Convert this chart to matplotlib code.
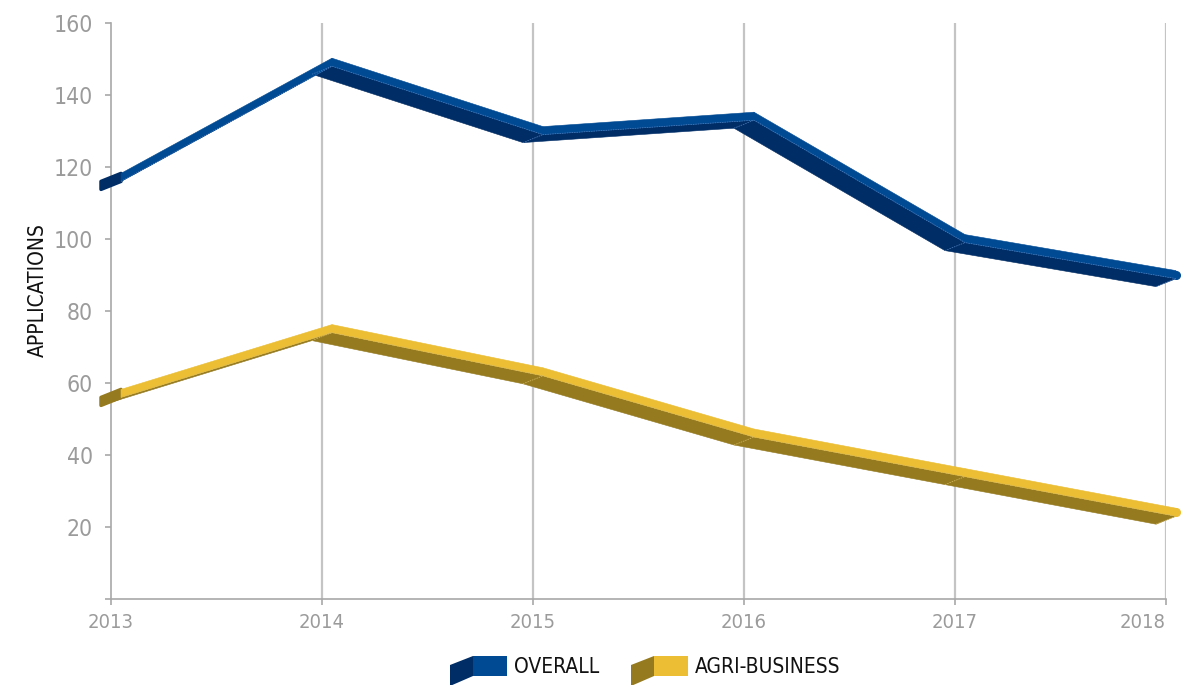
import numpy as np
import matplotlib.pyplot as plt
from matplotlib.patches import Polygon
from matplotlib import font_manager

years = [2013, 2014, 2015, 2016, 2017, 2018]
overall = [116, 148, 129, 133, 99, 89]
agri_business = [56, 74, 62, 45, 34, 23]
y_ticks = [0, 20, 40, 60, 80, 100, 120, 140, 160]
y_labels = ["", "20", "40", "60", "80", "100", "120", "140", "160"]

W, H, DPI = 1182, 685, 100
GREY = "#9b9b9b"

# pick the narrowest sans face that is installed
names = {f.name for f in font_manager.fontManager.ttflist}
narrow = [n for n in ["Liberation Sans Narrow", "DejaVu Sans Condensed"] if n in names]
FONT = narrow + ["DejaVu Sans"]
condensed = [f for f in font_manager.fontManager.ttflist
             if f.name == "DejaVu Sans" and f.stretch == "condensed"]
STRETCH = "condensed" if (condensed and not narrow) else "normal"

fig = plt.figure(figsize=(W / DPI, H / DPI), dpi=DPI)
ax = fig.add_axes([111 / W, 86 / H, 1055 / W, 576 / H])
ax.set_xlim(years[0], years[-1])
ax.set_ylim(0, 160)

# size of one pixel in data units, used for the ribbon depth
px_x = (years[-1] - years[0]) / 1055
px_y = 160 / 576


def ribbon(ax, xs, ys, light, dark, seam):
    xs = np.asarray(xs, float)
    ys = np.asarray(ys, float)
    fx, fy = xs - 10 * px_x, ys - 8 * px_y    # front edge of slanted face
    bx, by = xs + 10 * px_x, ys               # back edge
    top = by + 8 * px_y                       # top of the flat band
    kw = dict(clip_on=False, zorder=3)
    # end cap at the first point
    cap = [(fx[0], fy[0]), (bx[0], by[0]), (bx[0], top[0]), (fx[0], ys[0])]
    ax.add_patch(Polygon(cap, fc=dark, ec=dark, lw=2.5, joinstyle="round", **kw))
    for i in range(len(xs) - 1):
        face = [(fx[i], fy[i]), (fx[i + 1], fy[i + 1]),
                (bx[i + 1], by[i + 1]), (bx[i], by[i])]
        ax.add_patch(Polygon(face, fc=dark, ec=dark, lw=0.4, **kw))
    for i in range(len(xs) - 1):
        band = [(bx[i], by[i]), (bx[i + 1], by[i + 1]),
                (bx[i + 1], top[i + 1]), (bx[i], top[i])]
        ax.add_patch(Polygon(band, fc=light, ec=light, lw=0.4, **kw))
    # rounded tip at the last point
    ax.plot([bx[-1]], [(by[-1] + top[-1]) / 2], "o", ms=5.5, color=light,
            clip_on=False, zorder=3)
    # faint seams along the folds
    ax.plot(bx, by, color=seam, lw=0.5, ls=(0, (2, 1.5)), clip_on=False, zorder=4)
    for i in range(1, len(xs)):
        ax.plot([fx[i], bx[i]], [fy[i], by[i]], color=seam, lw=0.5,
                ls=(0, (2, 1.5)), clip_on=False, zorder=4)


ribbon(ax, years, overall, "#004a93", "#002d66", "#4f7fbf")
ribbon(ax, years, agri_business, "#ebbe34", "#957a1f", "#d9bc62")

# axes styling
for side in ["top", "right"]:
    ax.spines[side].set_visible(False)
for side in ["left", "bottom"]:
    ax.spines[side].set_color("#a8a8a8")
    ax.spines[side].set_linewidth(1.2)

ax.set_xticks(years)
ax.set_xticklabels([str(y) for y in years])
ax.set_yticks(y_ticks)
ax.set_yticklabels(y_labels)
ax.tick_params(axis="both", colors="#a8a8a8", length=4, width=1.2, labelcolor=GREY)
ax.tick_params(axis="y", pad=9, labelsize=16.5)
ax.tick_params(axis="x", pad=6, labelsize=14.5)
for lab in ax.get_xticklabels() + ax.get_yticklabels():
    lab.set_family(FONT)
    lab.set_fontstretch(STRETCH)
ax.get_xticklabels()[-1].set_horizontalalignment("right")
ax.get_xticklabels()[-1].set_x(years[-1] + 15 * px_x)

for yr in years[1:]:
    ax.axvline(yr, color="#c4c4c4", lw=1.6, zorder=1)

fig.text(38 / W, 1 - 290 / H, "APPLICATIONS", rotation=90, ha="center",
         va="center", fontsize=15, family=FONT, fontstretch=STRETCH,
         color="#111111")


# legend with little 3D blocks
def legend_block(x0, light, dark, label):
    t = fig.transFigure

    def p(x, y):
        return (x / W, 1 - y / H)
    fig.patches.append(Polygon([p(x0, 665), p(x0 + 23, 656), p(x0 + 23, 676),
                                p(x0, 686)], fc=dark, ec="none", transform=t))
    fig.patches.append(Polygon([p(x0 + 23, 656), p(x0 + 57, 656),
                                p(x0 + 57, 676), p(x0 + 23, 676)],
                               fc=light, ec="none", transform=t))
    fig.text((x0 + 64) / W, 1 - 667 / H, label, ha="left", va="center",
             fontsize=15, family=FONT, fontstretch=STRETCH, color="#111111")


legend_block(450, "#004a93", "#002d66", "OVERALL")
legend_block(631, "#ebbe34", "#957a1f", "AGRI-BUSINESS")

fig.savefig("out.png", dpi=DPI)
